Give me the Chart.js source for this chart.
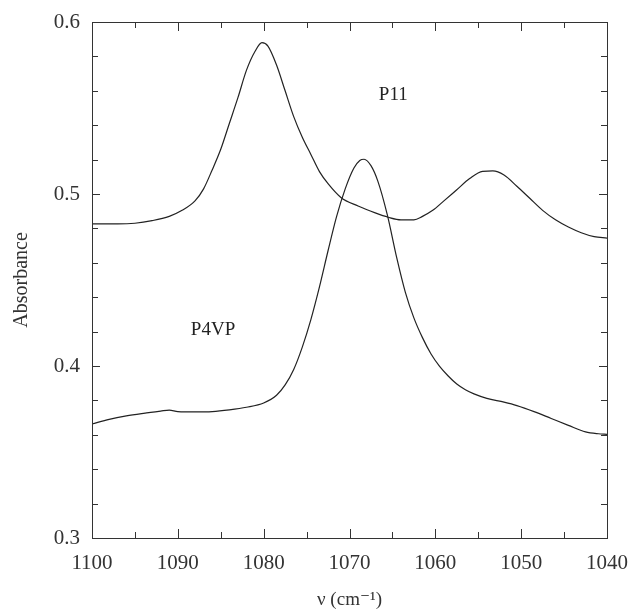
<!DOCTYPE html>
<html>
<head>
<meta charset="utf-8">
<script src="https://cdn.jsdelivr.net/npm/chart.js@4.4.1/dist/chart.umd.min.js"></script>
<style>
  html, body { margin: 0; padding: 0; background: #fff; }
  #wrap { width: 631px; height: 611px; }
</style>
</head>
<body>
<div id="wrap"><canvas id="chart" width="631" height="611"></canvas></div>
<script>
// Spectra (wavenumber in cm-1, absorbance)
const p11Wavenumber = [1100, 1097, 1095, 1093, 1091, 1089.5, 1088, 1087, 1086, 1085, 1084, 1083, 1082, 1081, 1080.2,
  1079.5, 1078.5, 1077.5, 1076.5, 1075.5, 1074.5, 1073.5, 1072.5, 1071, 1069, 1067, 1065.5, 1064, 1062.5, 1061.5,
  1060.3, 1059, 1057.5, 1056, 1054.5, 1053.3, 1052, 1050.5, 1049, 1047.5, 1046, 1044.5, 1043, 1041.5, 1040];
const p11Absorbance = [0.4826, 0.4826, 0.4830, 0.4845, 0.4870, 0.4905, 0.4960, 0.5030, 0.5140, 0.5260, 0.5410, 0.5560, 0.5720, 0.5830, 0.5880,
  0.5860, 0.5750, 0.5600, 0.5450, 0.5330, 0.5230, 0.5130, 0.5060, 0.4980, 0.4930, 0.4890, 0.4865, 0.4850, 0.4850, 0.4870,
  0.4905, 0.4960, 0.5025, 0.5090, 0.5132, 0.5134, 0.5110, 0.5045, 0.4975, 0.4905, 0.4850, 0.4808, 0.4775, 0.4752, 0.4744];

const p4vpWavenumber = [1100, 1098, 1096, 1094, 1092, 1091, 1090, 1088, 1086, 1084, 1082, 1080, 1078.5, 1077.5, 1076.5,
  1075.5, 1074.5, 1073.5, 1072.5, 1071.5, 1070.5, 1069.5, 1068.8, 1068.3, 1067.5, 1066.7, 1065.6, 1064.5, 1063.5, 1062.5,
  1061.5, 1060.5, 1059.5, 1058.5, 1057.5, 1056.5, 1055.5, 1054, 1052, 1050.5, 1048.5, 1046.5, 1044.5, 1042.5, 1041, 1040];
const p4vpAbsorbance = [0.3663, 0.3690, 0.3710, 0.3725, 0.3738, 0.3744, 0.3735, 0.3733, 0.3735, 0.3745, 0.3760, 0.3785, 0.3830, 0.3890, 0.3980,
  0.4110, 0.4270, 0.4460, 0.4670, 0.4870, 0.5030, 0.5150, 0.5195, 0.5202, 0.5165, 0.5075, 0.4880, 0.4630, 0.4430, 0.4280,
  0.4165, 0.4070, 0.3998, 0.3942, 0.3895, 0.3862, 0.3838, 0.3812, 0.3790, 0.3770, 0.3735, 0.3695, 0.3655, 0.3617, 0.3606, 0.3603];

const seriesNames = ['P11', 'P4VP'];
// where each curve's name sits, in data coordinates
const labelWavenumber = [1064.9, 1085.9];
const labelAbsorbance = [0.5576, 0.4209];

const xMajorTicks = [1100, 1090, 1080, 1070, 1060, 1050, 1040];
const xMinorTicks = [1095, 1085, 1075, 1065, 1055, 1045];
const yMajorTicks = [0.3, 0.4, 0.5, 0.6];
const yMinorTicks = [0.32, 0.34, 0.36, 0.38, 0.42, 0.44, 0.46, 0.48, 0.52, 0.54, 0.56, 0.58];

const ink = '#222';
const serif = '"Liberation Serif", "DejaVu Serif", serif';

function toPoints(xs, ys) {
    return xs.map((x, i) => ({ x: x, y: ys[i] }));
}

// Frame with inward ticks on all four sides, plus curve names
const framePlugin = {
    id: 'frame',
    afterDraw(chart) {
        const ctx = chart.ctx;
        const area = chart.chartArea;
        const xs = chart.scales.x;
        const ys = chart.scales.y;
        ctx.save();
        ctx.strokeStyle = '#333';
        ctx.lineWidth = 1;
        ctx.strokeRect(area.left + 0.5, area.top + 0.5, area.right - area.left, area.bottom - area.top);

        ctx.beginPath();
        const xTick = (v, len) => {
            const px = Math.round(xs.getPixelForValue(v)) + 0.5;
            ctx.moveTo(px, area.bottom); ctx.lineTo(px, area.bottom - len);
            ctx.moveTo(px, area.top); ctx.lineTo(px, area.top + len);
        };
        const yTick = (v, len) => {
            const py = Math.round(ys.getPixelForValue(v)) + 0.5;
            ctx.moveTo(area.left, py); ctx.lineTo(area.left + len, py);
            ctx.moveTo(area.right, py); ctx.lineTo(area.right - len, py);
        };
        xMajorTicks.forEach(v => xTick(v, 9));
        xMinorTicks.forEach(v => xTick(v, 6));
        yMajorTicks.forEach(v => yTick(v, 8));
        yMinorTicks.forEach(v => yTick(v, 6));
        ctx.stroke();

        ctx.fillStyle = ink;
        ctx.font = '19px ' + serif;
        ctx.textAlign = 'center';
        ctx.textBaseline = 'middle';
        seriesNames.forEach((name, i) => {
            ctx.fillText(name, xs.getPixelForValue(labelWavenumber[i]), ys.getPixelForValue(labelAbsorbance[i]));
        });
        ctx.restore();
    }
};

const lineStyle = {
    borderColor: ink,
    borderWidth: 1.2,
    pointRadius: 0,
    fill: false,
    cubicInterpolationMode: 'monotone'
};

new Chart(document.getElementById('chart'), {
    type: 'line',
    data: {
        datasets: [
            Object.assign({ label: seriesNames[0], data: toPoints(p11Wavenumber, p11Absorbance) }, lineStyle),
            Object.assign({ label: seriesNames[1], data: toPoints(p4vpWavenumber, p4vpAbsorbance) }, lineStyle)
        ]
    },
    options: {
        responsive: false,
        animation: false,
        layout: { padding: { left: 0, top: 22, right: 24, bottom: 0 } },
        plugins: {
            legend: { display: false },
            tooltip: { enabled: false }
        },
        scales: {
            x: {
                type: 'linear',
                reverse: true,
                min: 1040,
                max: 1100,
                afterFit: s => {
                    s.height = 73;
                    s.paddingLeft = 0;
                    s.paddingRight = 0;
                },
                grid: { display: false, drawTicks: false },
                border: { display: false },
                ticks: {
                    stepSize: 10,
                    padding: 13,
                    color: '#333',
                    font: { family: serif, size: 21 },
                    maxRotation: 0,
                    callback: v => String(v)
                },
                title: {
                    display: true,
                    text: 'ν (cm⁻¹)',
                    color: '#333',
                    font: { family: serif, size: 19 },
                    padding: { top: 2, bottom: 0 }
                }
            },
            y: {
                min: 0.3,
                max: 0.6,
                afterFit: s => {
                    s.width = 92;
                    s.paddingTop = 0;
                    s.paddingBottom = 0;
                },
                grid: { display: false, drawTicks: false },
                border: { display: false },
                ticks: {
                    stepSize: 0.1,
                    padding: 12,
                    color: '#333',
                    font: { family: serif, size: 21 },
                    callback: v => v.toFixed(1)
                },
                title: {
                    display: true,
                    text: 'Absorbance',
                    color: '#333',
                    font: { family: serif, size: 20 },
                    padding: { top: 10, bottom: 0 }
                }
            }
        }
    },
    plugins: [framePlugin]
});
</script>
</body>
</html>
